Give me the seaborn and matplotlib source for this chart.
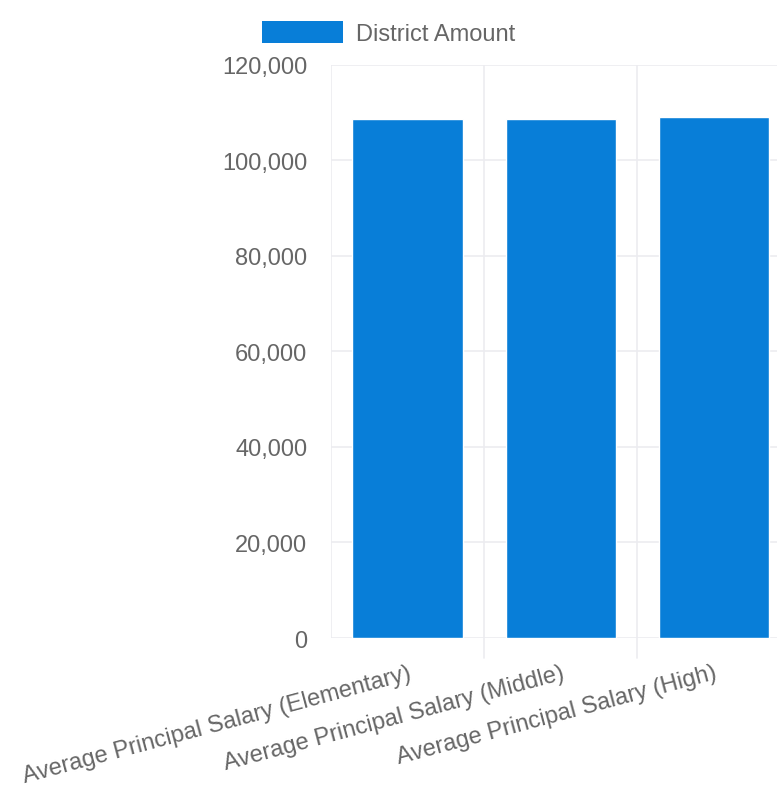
import matplotlib
matplotlib.use("Agg")
import matplotlib.pyplot as plt
from matplotlib.patches import Patch
from matplotlib.ticker import FuncFormatter, MultipleLocator
import seaborn as sns
import pandas as pd

categories = [
    "Average Principal Salary (Elementary)",
    "Average Principal Salary (Middle)",
    "Average Principal Salary (High)",
]
district_amount = [108700, 108700, 109000]
series_name = "District Amount"

bar_color = "#087ed8"
text_color = "#666666"
grid_color = "#ececf0"

sns.set_theme(style="white")
plt.rcParams["font.family"] = ["Liberation Sans", "DejaVu Sans"]

df = pd.DataFrame({"category": categories, "value": district_amount})

fig = plt.figure(figsize=(7.77, 8.04), dpi=100)
ax = fig.add_axes([0.426, 0.2052, 0.591, 0.7133])

sns.barplot(data=df, x="category", y="value", color=bar_color,
            saturation=1, width=0.72, ax=ax, zorder=3)

ax.set_xlim(-0.5, 2.5)
ax.set_ylim(0, 120000)
ax.yaxis.set_major_locator(MultipleLocator(20000))
ax.yaxis.set_major_formatter(FuncFormatter(lambda v, p: f"{int(v):,}"))

# vertical grid lines sit on the category boundaries
for b in [-0.5, 0.5, 1.5, 2.5]:
    ax.axvline(b, color=grid_color, lw=1.2, zorder=1)
ax.yaxis.grid(True, color=grid_color, lw=1.2, zorder=1)
ax.set_axisbelow(True)

for s in ax.spines.values():
    s.set_visible(False)

ax.set_xlabel("")
ax.set_ylabel("")

ax.tick_params(axis="y", length=3, width=1, color=grid_color, pad=14,
               labelsize=17, labelcolor=text_color)
ax.tick_params(axis="x", length=0, pad=17, labelsize=17, labelcolor=text_color)
for lbl in ax.get_xticklabels():
    lbl.set_rotation(15)
    lbl.set_ha("right")
    lbl.set_va("top")
    lbl.set_rotation_mode("anchor")

# tick marks under the category boundaries
for b in [0.5, 1.5]:
    ax.plot([b, b], [0, -0.035], transform=ax.get_xaxis_transform(),
            color=grid_color, lw=1.2, clip_on=False, zorder=1)

handle = Patch(facecolor=bar_color, edgecolor="none", label=series_name)
fig.legend(handles=[handle], loc="center", bbox_to_anchor=(0.5, 0.958),
           frameon=False, fontsize=17, labelcolor=text_color,
           handlelength=3.4, handleheight=1.06, handletextpad=0.55)

fig.savefig("out.png", dpi=100, facecolor="white")
